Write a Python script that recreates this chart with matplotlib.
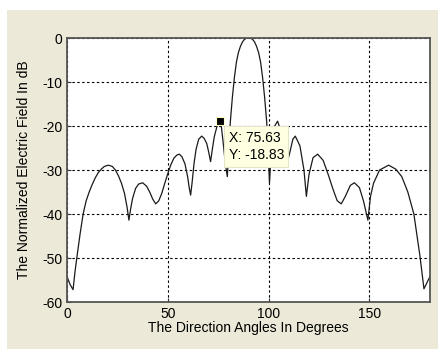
import matplotlib.pyplot as plt
from matplotlib.patches import Rectangle

plt.rcParams['font.family'] = ['Liberation Sans', 'DejaVu Sans']
plt.rcParams['axes.unicode_minus'] = False

# angles (deg) and normalized field (dB)
angles = [0, 1.5, 3, 4, 5, 6.5, 8, 9.5, 11, 12.5, 14, 15.5, 17, 18.5, 20.5,
          22.5, 24, 25.5, 27, 28.5, 29.8, 30.7, 31.5, 32.5, 34, 35.5, 37.5,
          39.5, 41, 42.5, 44, 45.5, 47, 48.5, 50, 51.5, 53, 54.5, 55.7, 57,
          58.5, 59.8, 60.6, 61.3, 62, 63, 64, 65.3, 66.8, 68, 69.3, 70.3,
          71.2, 72, 73, 74.3, 75.63, 76.5, 77.5, 78.5, 79.5, 80.3, 81, 82,
          83, 84, 85, 86, 87, 88, 89, 90, 91, 92, 93, 94, 95, 96, 97, 98,
          99, 99.7, 100.4, 101.5, 103, 104.4, 106, 107.5, 108.8, 110.5, 112,
          113.2, 115.5, 117.5, 118.7, 120, 122, 124.3, 127, 129.5, 132, 134,
          136, 138, 140.5, 142.5, 145, 147, 149.2, 150.5, 152, 155, 159.5,
          163, 166, 169, 172, 175, 177, 180]
field_db = [-54.2, -56, -57.2, -53, -49.5, -44.5, -40, -37, -35, -33.3,
            -31.8, -30.6, -29.8, -29.2, -28.9, -29.2, -30, -31.3, -33, -35.3,
            -38.5, -41.4, -39, -36.5, -34.2, -33.2, -32.9, -33.7, -35, -36.6,
            -37.7, -37, -35.3, -33, -30.8, -28.8, -27.3, -26.6, -26.4, -27,
            -28.6, -31.5, -34, -35.7, -33, -28.5, -25.3, -23, -22.3, -22.8,
            -24, -26, -28.1, -25.5, -22.5, -20.2, -18.83, -20, -24, -28.5,
            -31.5, -25, -19, -13.5, -9, -5.5, -3.3, -1.9, -0.9, -0.3, -0.05,
            0, -0.05, -0.3, -0.9, -1.9, -3.3, -5.5, -9, -13.5, -19, -25, -33,
            -24, -20, -18.9, -21, -26, -29, -26, -23, -22.3, -24.5, -30, -36,
            -31, -27.2, -26.4, -27.8, -31, -34.5, -37, -37.7, -36, -33.5,
            -32.9, -34, -37, -41.4, -36, -33, -30, -28.9, -29.8, -31.5, -35,
            -40, -49.5, -57, -54.2]

tip_x = 75.63
tip_y = -18.83

x_ticks = [0, 50, 100, 150]
y_ticks = [-60, -50, -40, -30, -20, -10, 0]

fig = plt.figure(figsize=(4.39, 3.49), dpi=100, facecolor='white')
fig.patches.append(Rectangle((7 / 439, 0), 1, 1 - 10 / 349, transform=fig.transFigure,
                             facecolor='#ECE9D8', edgecolor='none', zorder=-10))

ax = fig.add_axes([67 / 439, 1 - 302 / 349, 363 / 439, 264 / 349])
ax.plot(angles, field_db, color='#1a1a1a', linewidth=0.9)

ax.set_xlim(0, 180)
ax.set_ylim(-60, 0)
ax.set_xticks(x_ticks)
ax.set_yticks(y_ticks)
ax.grid(True, color='black', linestyle=(0, (2.2, 2.2)), linewidth=0.8)
ax.tick_params(direction='in', length=3, labelsize=10, colors='#333333', labelcolor='black')
for s in ax.spines.values():
    s.set_color('#555555')
    s.set_linewidth(1.3)

ax.set_xlabel('The Direction Angles In Degrees', fontsize=10, labelpad=0)
ax.set_ylabel('The Normalized Electric Field In dB', fontsize=10, labelpad=8)

ax.plot([tip_x], [tip_y], marker='s', markersize=6, markerfacecolor='black',
        markeredgecolor='#FFFFC8', markeredgewidth=0.8, zorder=5)
ax.annotate('X: %.2f\nY: %.2f' % (tip_x, tip_y), xy=(tip_x, tip_y), xytext=(6.5, -7),
            textcoords='offset points', ha='left', va='top', fontsize=10,
            linespacing=1.35,
            bbox=dict(boxstyle='square,pad=0.3', facecolor='#FFFFE1',
                      edgecolor='#E6E4C8', linewidth=0.8), zorder=6)

fig.savefig('out.png', dpi=100, facecolor=fig.get_facecolor())
